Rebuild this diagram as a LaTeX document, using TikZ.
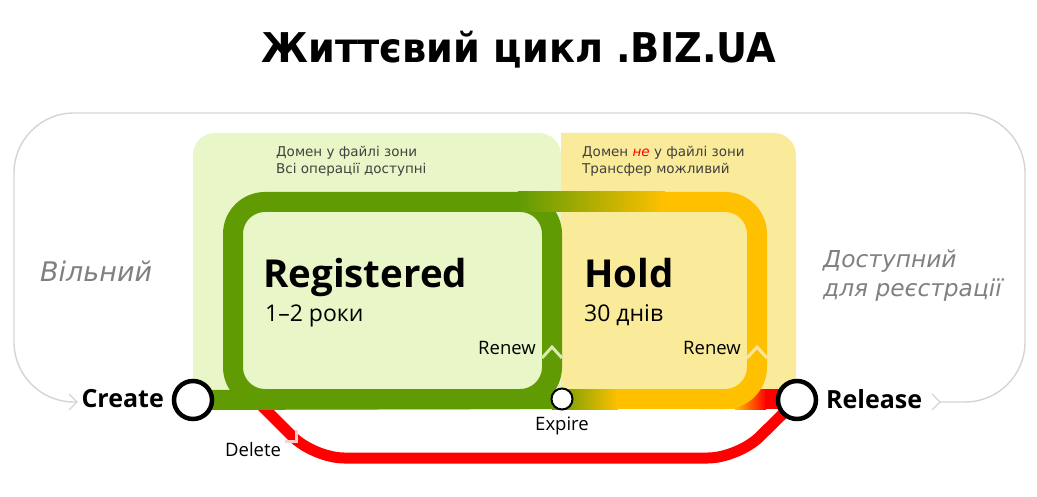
\documentclass[tikz,border=0pt]{standalone}
\usepackage{fontspec}
\usepackage{graphicx}
\setmainfont{Open Sans}
\newfontfamily\verd{DejaVu Sans}
\definecolor{lgreen}{RGB}{233,247,200}
\definecolor{lyellow}{RGB}{250,235,155}
\definecolor{gl}{RGB}{96,155,4}
\definecolor{yl}{RGB}{255,192,0}
\definecolor{rl}{RGB}{255,0,0}
\definecolor{outl}{RGB}{212,212,212}
\definecolor{gtext}{RGB}{128,128,128}
\definecolor{dtext}{RGB}{64,64,64}
\definecolor{paleg}{RGB}{214,236,176}
\definecolor{paley}{RGB}{250,230,160}
\definecolor{paler}{RGB}{255,205,205}
\tikzset{
  outline/.style={draw=outl, line width=1.4pt},
  greenline/.style={draw=gl, line width=20pt},
  yellowline/.style={draw=yl, line width=20pt},
  redline/.style={draw=rl, line width=11pt},
  chev/.style={line width=3pt, line join=miter},
  ring/.style={circle, draw=black, fill=white, line width=4.5pt, inner sep=0pt, minimum size=38pt},
  smallring/.style={circle, draw=black, fill=white, line width=2pt, inner sep=0pt, minimum size=21pt},
  zone/.style={font=\verd\fontsize{13.5}{16}\selectfont, text=dtext, anchor=base west, inner sep=0pt},
  big/.style={font=\bfseries\fontsize{38.5}{42}\selectfont, anchor=base west, inner sep=0pt},
  sub/.style={font=\fontsize{23}{26}\selectfont, anchor=base west, inner sep=0pt},
  small/.style={font=\fontsize{18.5}{21}\selectfont, inner sep=0pt},
  endlbl/.style={font=\bfseries\fontsize{25}{28}\selectfont, inner sep=0pt},
  state/.style={font=\verd\itshape\fontsize{23.3}{28}\selectfont, text=gtext, anchor=base west, inner sep=0pt},
}
\begin{document}
\begin{tikzpicture}[x=1pt,y=-1pt]
\useasboundingbox (0,0) rectangle (1037,497);
% zone backgrounds
\fill[lgreen, rounded corners=22pt] (561,399) -- (193,399) -- (193,133) -- (561,133) [sharp corners] -- cycle;
\fill[lgreen] (193,300) rectangle (561,399);
\fill[lyellow, rounded corners=22pt] (561,133) -- (796,133) -- (796,399) [sharp corners] -- (561,399) -- cycle;
% outer gray cycle
\draw[outline, rounded corners=60pt] (940,402) -- (1025,402) -- (1025,113) -- (14,113) -- (14,402) -- (77,402);
\draw[outline] (69,394) -- (77,402) -- (69,410);
\draw[outline] (932,394) -- (940,402) -- (932,410);
% nodes (circles) positions
\coordinate (create) at (193,400);
\coordinate (release) at (797,400);
\coordinate (expire) at (562,399);
\coordinate (delstart) at (255,399);
% delete line
\draw[redline, rounded corners=30pt] (delstart) -- (314,458) -- (738,458) -- (release);
\draw[chev, draw=paler] (296,430) -- (296,441) -- (285,441);
% registered loop
\draw[greenline, rounded corners=32pt] (233,202) rectangle (552,399);
\draw[greenline] (create) -- (expire);
% top link
\shade[left color=gl, right color=yl] (518,192) rectangle (665,212);
% bottom band
\shade[left color=gl, right color=yl] (552,389) rectangle (618,409);
\fill[yl] (617,389) rectangle (736,409);
\shade[left color=yl, right color=rl] (735,389) rectangle (766,409);
\fill[rl] (765,389) rectangle (797,409);
% hold loop
\draw[yellowline, rounded corners=32pt] (660,202) -- (757,202) -- (757,399) -- (700,399);
% renew chevrons
\draw[chev, draw=paleg] (542,358) -- (552,347) -- (562,358);
\draw[chev, draw=paley] (747,358) -- (757,347) -- (767,358);
% circles
\node[ring] (createc) at (create) {};
\node[ring] (releasec) at (release) {};
\node[smallring] (expirec) at (expire) {};
% texts
\node[font=\verd\bfseries\fontsize{41}{46}\selectfont, anchor=base, inner sep=0pt] (title) at (519,63) {\scalebox{0.934}[1]{Життєвий цикл .BIZ.UA}};
\node[zone] (z1a) at (276,157) {Домен у файлі зони};
\node[zone] (z1b) at (276,174) {Всі операції доступні};
\node[zone] (z2a) at (582,157) {Домен {\color{rl}\itshape не} у файлі зони};
\node[zone] (z2b) at (582,174) {Трансфер можливий};
\node[big] (reg) at (263,288) {Registered};
\node[sub] (regt) at (265,322) {1–2 роки};
\node[big] (hold) at (584,288) {Hold};
\node[sub] (holdt) at (584,322) {30 днів};
\node[small, anchor=base east] (renew1) at (536,354) {Renew};
\node[small, anchor=base east] (renew2) at (741,354) {Renew};
\node[small, anchor=base] (expl) at (562,430) {Expire};
\node[small, anchor=base west] (dell) at (225,456) {Delete};
\node[endlbl, anchor=base east] (createl) at (164,407) {Create};
\node[endlbl, anchor=base west] (releasel) at (826,408) {Release};
\node[state, font=\verd\itshape\fontsize{27}{30}\selectfont] (free) at (40,282) {Вільний};
\node[state] (av1) at (823,268) {Доступний};
\node[state] (av2) at (823,297) {для реєстрації};
\end{tikzpicture}
\end{document}
